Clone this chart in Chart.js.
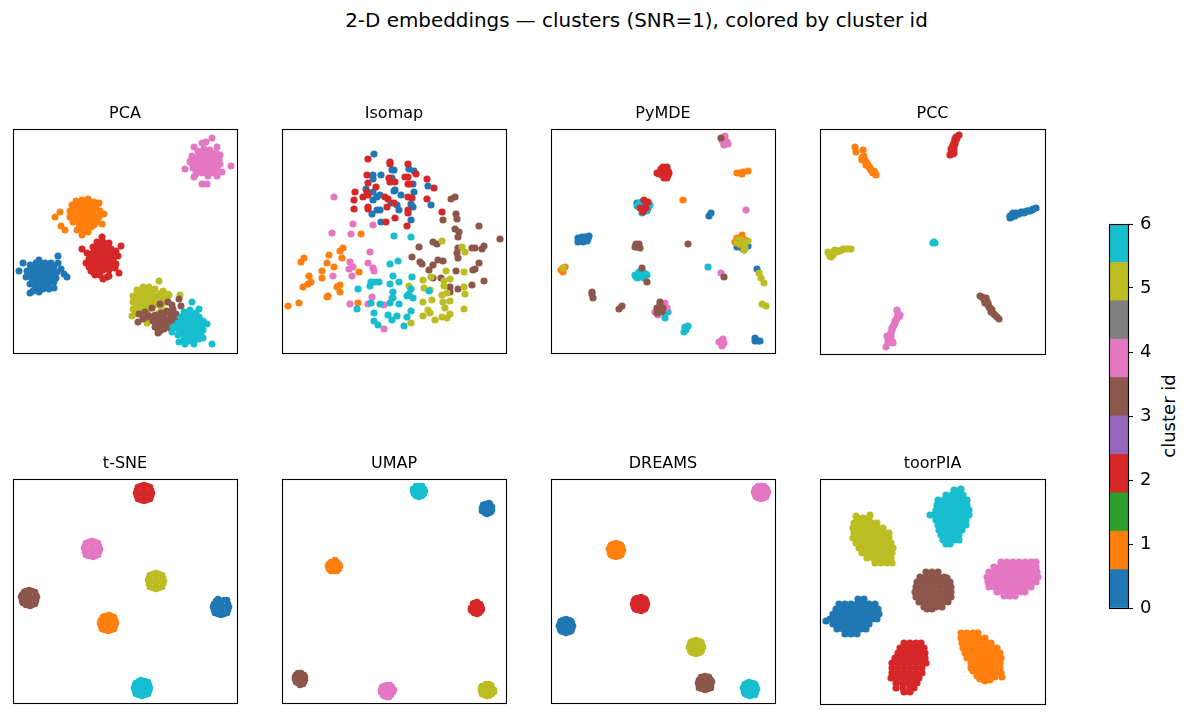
<!DOCTYPE html>
<html>
<head>
<meta charset="utf-8">
<title>2-D embeddings</title>
<script src="https://cdn.jsdelivr.net/npm/chart.js@4/dist/chart.umd.min.js"></script>
<style>
  html, body { margin: 0; padding: 0; background: #fff; width: 1190px; height: 716px; overflow: hidden; }
  body { position: relative; font-family: "DejaVu Sans", sans-serif; color: #000; }
  canvas { position: absolute; }
  #suptitle { position: absolute; left: 0; width: 1273px; top: 9px; text-align: center; font-size: 19.9px; line-height: 24px; white-space: nowrap; }
  #cblabel { position: absolute; left: 1168px; top: 416px; width: 0; height: 0; }
  #cblabel span { position: absolute; transform: translate(-50%, -50%) rotate(-90deg); font-size: 18px; white-space: nowrap; }
</style>
</head>
<body>
<div id="suptitle">2-D embeddings — clusters (SNR=1), colored by cluster id</div>
<div id="cblabel"><span>cluster id</span></div>
<script>
// tab10, as the colorbar shows it
const BLUE="#1f77b4", ORANGE="#ff7f0e", GREEN="#2ca02c", RED="#d62728", PURPLE="#9467bd",
      BROWN="#8c564b", PINK="#e377c2", GRAY="#7f7f7f", OLIVE="#bcbd22", CYAN="#17becf";

// values, axes have no units so they run 0..224 from the top left
const pcaBlue=[[6,142],[10,134],[45,127],[48,140],[54,148],[51,145],[17,164],[20,162],[45,134],[26,131],[17,136],[23,137],[29,137],[35,135],[41,137],[14,142],[20,143],[26,143],[32,143],[38,143],[44,143],[13,148],[19,149],[25,149],[31,149],[37,149],[43,149],[17,155],[23,155],[29,155],[35,155],[41,153],[22,160],[30,160],[36,160],[41,159],[26,163],[20,139],[26,140],[32,140],[38,140],[17,146],[23,146],[29,146],[35,146],[41,146],[20,152],[26,152],[32,152],[38,152],[26,158],[33,158],[23,134],[32,134],[38,134]];
const pcaOrange=[[47,83],[42,88],[48,97],[52,101],[69,106],[91,85],[86,74],[89,95],[64,101],[75,103],[63,72],[69,71],[75,70],[81,73],[59,76],[65,77],[71,76],[77,76],[83,78],[57,82],[63,82],[69,82],[75,82],[81,83],[87,82],[57,88],[63,88],[69,88],[75,88],[81,89],[86,88],[60,93],[66,94],[72,94],[78,94],[84,93],[66,99],[72,99],[78,98],[70,103],[60,79],[66,74],[72,73],[78,73],[62,79],[68,79],[74,79],[80,80],[60,85],[66,85],[72,85],[78,85],[84,85],[60,90],[66,91],[72,91],[78,91],[83,91],[69,96],[75,96],[81,96],[72,101]];
const pcaRed=[[108,117],[69,120],[106,144],[96,147],[90,150],[94,148],[89,108],[84,113],[90,113],[96,114],[80,118],[86,119],[92,119],[98,120],[74,124],[80,124],[86,125],[92,125],[98,125],[103,122],[76,130],[82,130],[88,131],[94,130],[100,131],[105,127],[73,134],[79,136],[85,136],[91,136],[97,136],[103,135],[78,142],[84,142],[90,141],[96,141],[102,139],[82,146],[87,146],[87,116],[93,116],[83,121],[89,122],[95,122],[77,127],[83,127],[89,128],[95,128],[101,128],[79,133],[85,133],[91,133],[97,133],[76,138],[82,139],[88,139],[94,139],[100,137],[81,144],[87,143]];
const pcaOlive=[[146,152],[167,166],[155,165],[119,187],[134,194],[124,161],[130,158],[136,158],[142,160],[150,162],[120,167],[126,165],[132,165],[138,165],[144,167],[150,168],[120,173],[126,172],[132,172],[138,172],[144,173],[150,174],[156,166],[120,180],[126,178],[132,178],[138,178],[128,184],[122,185],[148,178],[154,170],[152,182],[146,184],[127,162],[133,161],[139,162],[123,169],[129,168],[135,168],[141,169],[147,170],[123,175],[129,175],[135,175],[141,176],[147,176],[123,182],[129,181],[135,181],[147,165]];
const pcaBrown=[[125,193],[126,185],[132,183],[139,179],[147,175],[155,173],[166,170],[168,177],[145,204],[159,176],[130,190],[136,187],[142,186],[148,184],[154,182],[160,180],[140,192],[146,191],[152,190],[158,188],[163,185],[142,198],[148,197],[154,197],[160,195],[165,192],[147,202],[163,198],[133,188],[139,189],[145,188],[151,186],[157,184],[143,195],[149,194],[155,193],[161,191],[145,200],[151,200],[157,199]];
const pcaPink=[[199,9],[218,37],[172,40],[189,55],[194,55],[181,48],[204,18],[181,18],[189,14],[193,13],[209,43],[204,47],[185,22],[191,20],[197,21],[203,24],[179,27],[185,28],[191,27],[197,28],[203,30],[207,26],[177,33],[183,34],[189,33],[195,35],[201,36],[207,35],[180,39],[186,40],[192,40],[198,42],[204,40],[183,45],[189,44],[195,47],[178,31],[192,33],[186,35],[188,24],[194,24],[200,26],[182,30],[188,30],[194,31],[200,32],[206,31],[180,36],[186,37],[192,37],[198,38],[204,38],[183,42],[189,42],[195,43],[201,44]];
const pcaCyan=[[179,173],[199,215],[166,213],[181,215],[194,195],[190,209],[186,180],[171,183],[177,181],[183,184],[168,188],[174,188],[180,188],[186,188],[190,192],[165,194],[171,194],[177,194],[183,194],[189,196],[160,198],[166,200],[172,200],[178,200],[184,201],[190,201],[165,206],[171,206],[177,206],[183,207],[188,205],[170,212],[176,212],[172,215],[186,210],[159,203],[174,185],[180,185],[171,191],[177,191],[183,191],[187,192],[168,197],[174,197],[180,197],[186,198],[163,197],[168,203],[174,203],[180,204],[186,204],[173,209],[179,209],[184,209]];

const isoBlue=[[92,25],[112,41],[110,41],[127,40],[132,42],[91,46],[99,46],[91,50],[84,60],[131,55],[132,63],[91,63],[91,71],[98,66],[95,68],[112,62],[119,66],[109,74],[115,76],[117,81],[129,75],[131,78],[149,76],[146,57],[90,85],[95,81],[98,81],[99,93],[129,91],[110,49],[113,61]];
const isoOrange=[[79,105],[61,119],[58,122],[47,126],[22,129],[19,133],[60,129],[45,134],[52,138],[40,142],[77,143],[40,149],[27,147],[29,153],[26,155],[21,158],[58,156],[55,158],[58,163],[45,168],[46,167],[17,174],[6,177],[76,174]];
const isoRed=[[86,30],[108,33],[108,35],[126,35],[134,45],[85,46],[123,48],[126,48],[145,50],[107,49],[108,53],[113,53],[126,55],[128,55],[152,59],[86,54],[94,58],[85,63],[86,66],[81,68],[73,63],[72,71],[72,80],[86,78],[86,80],[103,68],[106,70],[112,74],[126,68],[130,69],[145,70],[126,81],[126,84],[160,83],[113,89],[104,93],[125,97],[105,78]];
const isoBrown=[[173,68],[169,70],[174,85],[175,90],[161,91],[197,97],[173,100],[177,103],[176,108],[218,110],[151,113],[155,115],[137,118],[193,119],[190,119],[202,117],[200,120],[176,119],[175,124],[176,129],[130,128],[138,133],[140,135],[156,131],[161,132],[151,136],[197,134],[147,141],[174,142],[193,140],[191,141],[151,149],[159,149],[202,152],[190,156],[176,160],[168,158],[168,163]];
const isoPink=[[52,68],[71,95],[50,104],[69,105],[91,96],[88,123],[68,133],[86,134],[71,138],[67,140],[91,139],[92,142],[51,147],[70,147],[90,168],[68,175],[86,175],[102,176],[110,169],[102,200]];
const isoOlive=[[160,112],[180,118],[183,123],[164,142],[182,143],[141,151],[149,148],[168,150],[162,152],[162,157],[127,157],[142,159],[148,161],[182,158],[183,165],[165,164],[160,166],[161,173],[168,172],[141,173],[150,171],[182,180],[163,179],[146,181],[148,184],[168,185],[141,187],[160,188],[165,189],[153,191],[129,194]];
const isoCyan=[[112,107],[129,108],[108,135],[116,132],[111,147],[130,148],[89,153],[88,157],[97,153],[108,155],[117,153],[76,160],[111,163],[129,160],[127,165],[125,167],[131,169],[111,169],[108,174],[89,174],[98,175],[117,175],[75,180],[129,182],[92,184],[106,186],[115,187],[110,191],[125,188],[92,192],[96,196],[122,197],[147,162],[93,153]];

const mdeBlue=[[158,87],[160,84],[87,76],[94,74],[92,81],[97,79],[91,73],[86,74],[91,77],[94,77],[27,109],[31,108],[36,108],[38,107],[27,113],[32,113],[36,112],[30,110],[33,110],[29,112],[34,108],[37,110],[186,118],[191,119],[197,117],[193,121],[206,140],[204,209],[207,212],[204,212],[209,212]];
const mdeCyan=[[88,74],[99,76],[91,84],[96,82],[86,77],[157,138],[84,146],[88,143],[92,143],[96,146],[89,148],[93,149],[86,149],[88,146],[92,146],[85,147],[95,145],[117,183],[114,189],[134,198],[137,197],[133,203],[135,201]];
const mdeRed=[[112,38],[116,38],[109,43],[106,44],[112,43],[117,42],[117,46],[113,49],[116,49],[111,46],[110,40],[114,40],[114,45],[108,45],[118,44],[93,71],[97,73],[95,79],[92,83],[89,79]];
const mdeOrange=[[186,44],[189,44],[192,43],[197,42],[191,45],[132,71],[186,109],[191,106],[194,111],[184,113],[189,116],[10,141],[14,138],[12,143]];
const mdePink=[[174,7],[171,11],[176,13],[177,15],[173,16],[172,13],[174,11],[195,81],[170,144],[114,174],[104,183],[116,179],[107,186],[168,213],[172,210],[171,217],[173,214],[170,212],[172,213]];
const mdeBrown=[[170,9],[85,115],[88,115],[86,118],[89,119],[84,118],[137,115],[173,148],[91,139],[96,153],[41,163],[42,169],[41,165],[68,180],[71,177],[109,173],[106,179],[111,183],[109,176],[112,179],[106,184]];
const mdeOlive=[[187,111],[194,118],[197,112],[189,114],[193,121],[186,114],[190,111],[192,115],[12,139],[208,144],[210,149],[213,154],[211,175],[215,177]];

const pccBlue=[[190,87],[195,85],[200,84],[205,83],[210,82],[216,79],[190,89],[196,84],[213,80],[201,83],[193,84],[192,86],[198,85],[203,83],[207,82],[212,81],[192,88],[195,87],[199,85],[204,84],[208,82]];
const pccOrange=[[35,18],[36,23],[43,21],[43,28],[45,31],[48,36],[51,41],[56,46],[53,44],[42,31],[46,36],[50,39],[54,42],[44,30],[47,34],[49,38],[52,42],[55,44],[44,27],[46,33],[42,29]];
const pccRed=[[139,6],[136,8],[136,11],[134,14],[133,18],[132,21],[131,24],[133,25],[130,26],[137,9],[135,12],[133,16],[131,20],[134,20],[134,24],[135,10],[132,23],[132,19],[134,17],[135,15]];
const pccBrown=[[160,167],[166,169],[165,174],[170,179],[175,186],[179,190],[171,183],[168,176],[162,168],[167,172],[169,178],[172,181],[174,185],[177,188],[164,171],[168,174],[171,180]];
const pccPink=[[77,181],[80,186],[76,191],[73,198],[71,204],[67,207],[70,213],[73,214],[66,218],[68,214],[75,194],[79,188],[69,209],[72,201],[78,186],[77,189],[74,196],[72,199],[70,206],[68,210],[71,207],[69,212],[72,212],[78,184],[75,192]];
const pccOlive=[[8,123],[11,128],[15,121],[20,122],[26,120],[31,120],[11,124],[23,120],[14,124],[9,125],[12,123],[17,122],[22,121],[28,120],[13,126],[10,127],[19,122],[16,123]];
const pccCyan=[[113,114],[115,114],[114,113]];

const tsneBlue=[[205,120],[214,121],[216,128],[214,134],[208,136],[202,134],[200,128],[203,122],[208,124],[212,128],[208,132],[204,128],[208,128],[215,131],[211,135],[205,135],[201,131],[201,125],[205,121],[211,121],[215,125]];
const tsneOrange=[[96,136],[101,138],[103,144],[101,150],[95,152],[89,150],[87,144],[90,138],[95,140],[99,144],[95,148],[91,144],[95,144],[102,147],[98,151],[92,151],[88,147],[88,141],[92,137],[98,137],[102,141]];
const tsneRed=[[131,6],[137,8],[139,14],[137,20],[131,22],[125,20],[123,14],[125,8],[131,10],[135,14],[131,18],[127,14],[131,14],[138,17],[134,21],[128,21],[124,17],[124,11],[128,7],[134,7],[138,11]];
const tsneBrown=[[16,111],[22,113],[24,118],[22,125],[17,127],[10,124],[8,118],[11,113],[16,115],[20,119],[16,123],[12,119],[16,119],[23,122],[19,126],[13,126],[9,122],[9,116],[13,112],[19,112],[23,116]];
const tsnePink=[[79,62],[85,64],[87,70],[85,76],[80,78],[73,76],[71,69],[73,64],[79,66],[83,70],[79,74],[75,70],[79,70],[86,73],[82,77],[76,77],[72,73],[72,67],[76,63],[82,63],[86,67]];
const tsneOlive=[[143,94],[149,96],[151,102],[149,108],[143,110],[137,108],[135,101],[137,96],[143,98],[147,102],[143,106],[139,102],[143,102],[150,105],[146,109],[140,109],[136,105],[136,99],[140,95],[146,95],[150,99]];
const tsneCyan=[[128,201],[135,203],[137,209],[135,215],[129,217],[123,215],[121,209],[123,204],[129,205],[133,209],[129,213],[125,209],[129,209],[136,212],[132,216],[126,216],[122,212],[122,206],[126,202],[132,202],[136,206]];

const umapBlue=[[207,24],[210,28],[209,33],[205,35],[200,32],[201,26],[205,29],[210,31],[207,34],[203,34],[200,29],[203,25],[208,25],[202,31],[208,31]];
const umapOrange=[[53,81],[57,85],[57,90],[52,92],[47,90],[47,85],[52,87],[55,83],[49,83],[46,87],[58,87],[55,92],[49,92],[52,83],[52,91]];
const umapRed=[[195,123],[199,127],[199,132],[195,135],[190,132],[189,129],[191,125],[194,129],[198,125],[200,130],[197,134],[192,134],[189,131],[192,124],[194,126],[194,132]];
const umapBrown=[[16,194],[22,196],[23,201],[21,205],[16,204],[13,200],[14,196],[18,200],[19,194],[23,198],[22,203],[18,206],[14,203],[13,198],[18,197],[18,203]];
const umapPink=[[105,206],[110,208],[111,213],[107,218],[102,217],[99,213],[100,208],[105,212],[108,206],[112,211],[109,216],[105,218],[101,216],[99,211],[102,207],[105,215]];
const umapOlive=[[207,205],[210,209],[212,213],[207,217],[202,216],[199,212],[200,207],[205,211],[204,205],[209,206],[212,211],[210,215],[205,217],[200,215],[199,209],[205,214]];
const umapCyan=[[137,7],[142,10],[142,15],[137,18],[132,15],[131,10],[137,12],[140,7],[134,7],[131,12],[143,12],[140,17],[134,17],[137,9],[137,15]];

const dreamsBlue=[[15,140],[20,142],[22,147],[20,152],[15,154],[10,152],[8,147],[10,142],[15,147],[18,147],[12,147],[15,144],[15,150],[21,150],[18,153],[12,153],[9,150],[9,144],[12,141],[18,141],[21,144]];
const dreamsOrange=[[65,64],[70,66],[72,71],[70,76],[65,78],[60,76],[58,70],[60,66],[65,71],[68,71],[62,71],[65,68],[65,74],[71,74],[68,77],[62,77],[59,74],[59,68],[62,65],[68,65],[71,68]];
const dreamsRed=[[90,118],[94,120],[96,125],[94,130],[90,132],[84,130],[82,125],[84,120],[89,125],[92,125],[86,125],[89,122],[89,128],[95,128],[92,131],[86,131],[83,128],[83,122],[86,119],[92,119],[95,122]];
const dreamsBrown=[[150,198],[158,198],[161,203],[160,209],[154,211],[148,209],[147,204],[154,197],[154,204],[157,204],[151,204],[154,201],[154,207],[160,207],[157,210],[151,210],[148,207],[148,201],[151,198],[157,198],[160,201]];
const dreamsPink=[[210,7],[215,9],[217,13],[215,18],[210,20],[205,18],[203,13],[205,9],[210,13],[213,13],[207,13],[210,10],[210,16],[216,16],[213,19],[207,19],[204,16],[204,10],[207,7],[213,7],[216,10]];
const dreamsOlive=[[145,161],[150,163],[152,168],[150,173],[145,175],[140,173],[138,168],[140,163],[145,168],[148,168],[142,168],[145,165],[145,171],[151,171],[148,174],[142,174],[139,171],[139,165],[142,162],[148,162],[151,165]];
const dreamsCyan=[[198,203],[204,205],[206,210],[204,216],[199,217],[194,215],[192,209],[194,205],[199,210],[202,210],[196,210],[199,207],[199,213],[205,213],[202,216],[196,216],[193,213],[193,207],[196,204],[202,204],[205,207]];

const toorBlue=[[38,120],[44,120],[19,125],[25,125],[31,125],[37,125],[43,125],[49,125],[55,125],[16,130],[22,130],[28,130],[34,130],[40,130],[46,130],[52,130],[58,130],[13,135],[19,135],[25,135],[31,135],[37,135],[43,135],[49,135],[55,135],[59,135],[10,140],[16,140],[22,140],[28,140],[34,140],[40,140],[46,140],[52,140],[57,140],[6,142],[13,145],[19,145],[25,145],[31,145],[37,145],[43,145],[49,145],[17,150],[23,150],[29,150],[35,150],[41,150],[46,150],[25,155],[31,155],[37,155]];
const toorOrange=[[141,154],[147,154],[153,154],[158,154],[141,159],[147,159],[153,159],[159,159],[165,159],[142,164],[148,164],[154,164],[160,164],[166,164],[171,164],[143,169],[149,169],[155,169],[161,169],[167,169],[173,169],[177,169],[145,174],[151,174],[157,174],[163,174],[169,174],[175,174],[180,174],[147,179],[153,179],[159,179],[165,179],[171,179],[177,179],[181,179],[151,184],[157,184],[163,184],[169,184],[175,184],[180,184],[156,189],[162,189],[168,189],[174,189],[180,189],[159,194],[165,194],[171,194],[177,194],[181,194],[163,198],[169,198],[175,198],[182,198],[170,201],[151,189],[153,192],[157,197],[160,200],[165,202]];
const toorRed=[[84,164],[90,164],[96,164],[101,164],[80,169],[86,169],[92,169],[98,169],[104,169],[78,174],[84,174],[90,174],[96,174],[102,174],[105,174],[75,179],[81,179],[87,179],[93,179],[99,179],[105,179],[72,184],[78,184],[84,184],[90,184],[96,184],[102,184],[106,184],[72,189],[78,189],[84,189],[90,189],[96,189],[102,189],[72,194],[78,194],[84,194],[90,194],[96,194],[102,194],[71,199],[77,199],[83,199],[89,199],[95,199],[99,199],[76,204],[82,204],[88,204],[94,204],[97,204],[76,209],[83,209],[90,209],[94,209],[84,213],[90,213]];
const toorBrown=[[106,93],[112,93],[118,93],[100,98],[106,98],[112,98],[118,98],[124,98],[127,99],[97,103],[103,103],[109,103],[115,103],[121,103],[127,103],[130,103],[96,108],[102,108],[108,108],[114,108],[120,108],[126,108],[131,108],[95,113],[101,113],[107,113],[113,113],[119,113],[125,113],[131,113],[96,118],[102,118],[108,118],[114,118],[120,118],[126,118],[131,118],[99,123],[105,123],[111,123],[117,123],[123,123],[128,123],[104,128],[110,128],[116,128],[122,128],[112,130],[107,130]];
const toorPink=[[181,83],[187,83],[193,83],[199,83],[205,83],[211,83],[216,83],[174,88],[180,88],[186,88],[192,88],[198,88],[204,88],[210,88],[216,88],[169,93],[175,93],[181,93],[187,93],[193,93],[199,93],[205,93],[211,93],[217,93],[167,98],[173,98],[179,98],[185,98],[191,98],[197,98],[203,98],[209,98],[215,98],[218,98],[168,103],[174,103],[180,103],[186,103],[192,103],[198,103],[204,103],[210,103],[216,103],[169,108],[175,108],[181,108],[187,108],[193,108],[199,108],[205,108],[211,108],[177,113],[183,113],[189,113],[195,113],[201,113],[205,113],[184,117],[190,117],[195,117]];
const toorOlive=[[36,37],[50,36],[37,39],[43,39],[49,39],[34,44],[40,44],[46,44],[52,44],[57,44],[33,49],[39,49],[45,49],[51,49],[57,49],[63,49],[34,54],[40,54],[46,54],[52,54],[58,54],[64,54],[69,54],[33,59],[39,59],[45,59],[51,59],[57,59],[63,59],[69,59],[36,64],[42,64],[48,64],[54,64],[60,64],[66,64],[71,64],[39,69],[45,69],[51,69],[57,69],[63,69],[69,69],[73,69],[42,74],[48,74],[54,74],[60,74],[66,74],[72,74],[47,79],[53,79],[59,79],[65,79],[71,79],[55,84],[61,84],[67,84],[72,84]];
const toorCyan=[[141,10],[134,11],[140,11],[126,16],[132,16],[138,16],[143,16],[118,21],[124,21],[130,21],[136,21],[142,21],[147,21],[117,26],[123,26],[129,26],[135,26],[141,26],[147,26],[116,31],[122,31],[128,31],[134,31],[140,31],[146,31],[149,31],[110,36],[113,36],[119,36],[125,36],[131,36],[137,36],[143,36],[149,36],[116,41],[122,41],[128,41],[134,41],[140,41],[146,41],[118,46],[124,46],[130,46],[136,46],[142,46],[146,46],[119,51],[125,51],[131,51],[137,51],[142,51],[121,56],[127,56],[133,56],[139,56],[123,61],[129,61],[135,61],[139,61],[126,65],[130,65]];

// colorbar: ten equal steps of tab10 between 0 and 6
const colorbarSteps=[0.6,0.6,0.6,0.6,0.6,0.6,0.6,0.6,0.6,0.6];
const colorbarColors=[BLUE,ORANGE,GREEN,RED,PURPLE,BROWN,PINK,GRAY,OLIVE,CYAN];
const colorbarMin=0, colorbarMax=6;

// back to front
const panels=[
  {title:"PCA",left:13,top:129,size:224,r:3.5,series:[[BLUE,pcaBlue],[ORANGE,pcaOrange],[RED,pcaRed],[OLIVE,pcaOlive],[BROWN,pcaBrown],[PINK,pcaPink],[CYAN,pcaCyan]]},
  {title:"Isomap",left:282,top:129,size:224,r:3.6,series:[[BLUE,isoBlue],[ORANGE,isoOrange],[RED,isoRed],[BROWN,isoBrown],[PINK,isoPink],[OLIVE,isoOlive],[CYAN,isoCyan]]},
  {title:"PyMDE",left:551,top:129,size:224,r:3.6,series:[[BLUE,mdeBlue],[CYAN,mdeCyan],[RED,mdeRed],[ORANGE,mdeOrange],[PINK,mdePink],[BROWN,mdeBrown],[OLIVE,mdeOlive]]},
  {title:"PCC",left:820,top:129,size:225,r:3.6,series:[[BLUE,pccBlue],[ORANGE,pccOrange],[RED,pccRed],[BROWN,pccBrown],[PINK,pccPink],[OLIVE,pccOlive],[CYAN,pccCyan]]},
  {title:"t-SNE",left:13,top:479,size:224,r:3.3,series:[[BLUE,tsneBlue],[ORANGE,tsneOrange],[RED,tsneRed],[BROWN,tsneBrown],[PINK,tsnePink],[OLIVE,tsneOlive],[CYAN,tsneCyan]]},
  {title:"UMAP",left:282,top:479,size:224,r:3.3,series:[[BLUE,umapBlue],[ORANGE,umapOrange],[RED,umapRed],[BROWN,umapBrown],[PINK,umapPink],[OLIVE,umapOlive],[CYAN,umapCyan]]},
  {title:"DREAMS",left:551,top:479,size:224,r:3.3,series:[[BLUE,dreamsBlue],[ORANGE,dreamsOrange],[RED,dreamsRed],[BROWN,dreamsBrown],[PINK,dreamsPink],[OLIVE,dreamsOlive],[CYAN,dreamsCyan]]},
  {title:"toorPIA",left:820,top:479,size:225,r:3.6,series:[[BLUE,toorBlue],[ORANGE,toorOrange],[RED,toorRed],[BROWN,toorBrown],[PINK,toorPink],[OLIVE,toorOlive],[CYAN,toorCyan]]}
];

const FONT="'DejaVu Sans', sans-serif";
const TITLE_H=32; // room above each axes box

const framePlugin={
  id:"frame",
  afterDatasetsDraw(chart){
    const {ctx,chartArea:a}=chart;
    ctx.save();
    ctx.strokeStyle="#000";
    ctx.lineWidth=1.1;
    ctx.strokeRect(Math.round(a.left)+.5,Math.round(a.top)+.5,Math.round(a.width),Math.round(a.height));
    ctx.restore();
  }
};

const addCanvas=(left,top,w,h)=>{
  const c=document.createElement("canvas");
  c.width=w; c.height=h;
  c.style.left=left+"px"; c.style.top=top+"px";
  c.style.width=w+"px"; c.style.height=h+"px";
  document.body.appendChild(c);
  return c;
};

panels.forEach(p=>{
  const c=addCanvas(p.left-2,p.top-TITLE_H,p.size+4,p.size+TITLE_H+2);
  const n=p.series.length;
  new Chart(c,{
    type:"scatter",
    data:{datasets:p.series.map(([color,pts],i)=>({
      data:pts.map(([x,y])=>({x,y})),
      order:n-i,
      backgroundColor:color,
      pointBackgroundColor:color,
      pointRadius:p.r,
      pointBorderWidth:0,
      clip:false
    }))},
    options:{
      responsive:false,
      animation:false,
      devicePixelRatio:1,
      layout:{autoPadding:false,padding:{left:2,right:2,top:0,bottom:2}},
      plugins:{
        legend:{display:false},
        tooltip:{enabled:false},
        title:{display:true,text:p.title,color:"#000",
          font:{family:FONT,size:16,weight:"normal",lineHeight:1},
          padding:{top:9,bottom:7}}
      },
      scales:{
        x:{display:false,min:0,max:p.size},
        y:{display:false,min:0,max:p.size,reverse:true}
      }
    },
    plugins:[framePlugin]
  });
});

// colorbar
new Chart(addCanvas(1107,212,76,408),{
  type:"bar",
  data:{labels:[""],datasets:colorbarSteps.map((v,i)=>({
    data:[v],
    backgroundColor:colorbarColors[i],
    order:i,
    barPercentage:1,
    categoryPercentage:1,
    borderWidth:0
  }))},
  options:{
    responsive:false,
    animation:false,
    devicePixelRatio:1,
    layout:{autoPadding:false,padding:{left:2,top:12,bottom:12,right:0}},
    plugins:{legend:{display:false},tooltip:{enabled:false}},
    scales:{
      x:{display:false,stacked:true},
      y:{
        position:"right",
        stacked:true,
        min:colorbarMin,
        max:colorbarMax,
        // bar must fill the box, tick labels may hang over its ends
        afterFit(s){ s.width=55; s.paddingTop=0; s.paddingBottom=0; },
        border:{display:false},
        grid:{drawOnChartArea:false,drawTicks:true,tickLength:5,color:"#000",tickWidth:1.1},
        ticks:{stepSize:1,color:"#000",padding:7,font:{family:FONT,size:18}}
      }
    }
  },
  plugins:[framePlugin]
});
</script>
</body>
</html>
